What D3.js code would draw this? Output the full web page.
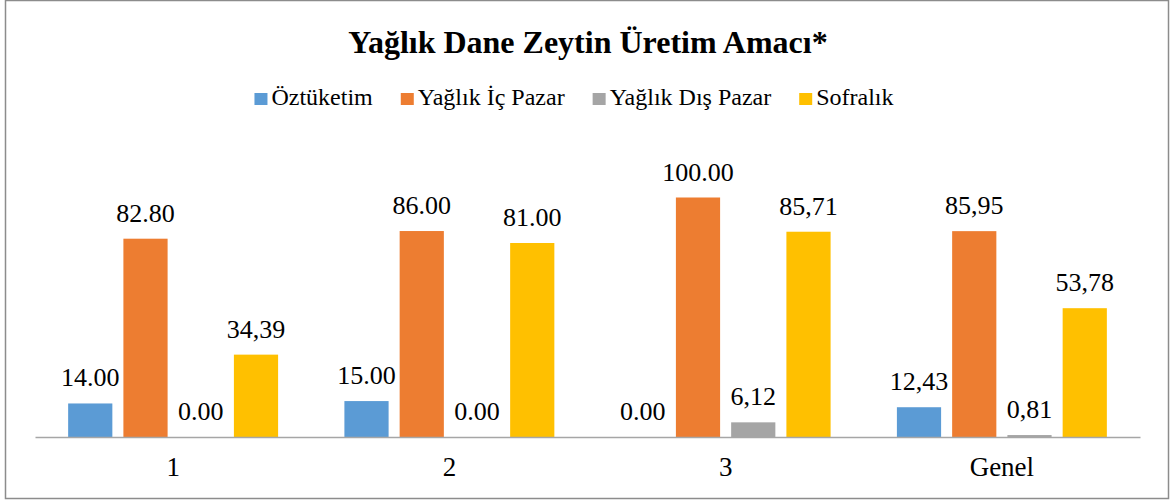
<!DOCTYPE html>
<html>
<head>
<meta charset="utf-8">
<script src="https://cdn.jsdelivr.net/npm/d3@7"></script>
<style>
  body { margin: 0; background: #fff; }
  text { font-family: "Liberation Serif", "Times New Roman", serif; fill: #000; }
</style>
</head>
<body>
<script>
const width = 1176;
const height = 503;

const gruplar = ["1", "2", "3", "Genel"];
const seriler = ["Öztüketim", "Yağlık İç Pazar", "Yağlık Dış Pazar", "Sofralık"];
const renkler = ["#5b9bd5", "#ed7d31", "#a5a5a5", "#ffc000"];

const oztuketim = [14.0, 15.0, 0.0, 12.43];
const icPazar = [82.8, 86.0, 100.0, 85.95];
const disPazar = [0.0, 0.0, 6.12, 0.81];
const sofralik = [34.39, 81.0, 85.71, 53.78];

// etiketler resimdeki gibi (nokta / virgül karışık)
const oztuketimEtiket = ["14.00", "15.00", "0.00", "12,43"];
const icPazarEtiket = ["82.80", "86.00", "100.00", "85,95"];
const disPazarEtiket = ["0.00", "0.00", "6,12", "0,81"];
const sofralikEtiket = ["34,39", "81.00", "85,71", "53,78"];

const degerler = [oztuketim, icPazar, disPazar, sofralik];
const etiketler = [oztuketimEtiket, icPazarEtiket, disPazarEtiket, sofralikEtiket];

const svg = d3
  .select("body")
  .append("svg")
  .attr("width", width)
  .attr("height", height);

svg
  .append("rect")
  .attr("x", 5.5)
  .attr("y", 0.5)
  .attr("width", 1163)
  .attr("height", 498)
  .attr("fill", "#fff")
  .attr("stroke", "#8c8c8c")
  .attr("stroke-width", 1.5);

svg
  .append("text")
  .attr("x", 588)
  .attr("y", 53)
  .attr("text-anchor", "middle")
  .attr("font-size", 32)
  .attr("font-weight", "bold")
  .text("Yağlık Dane Zeytin Üretim Amacı*");

// lejant
const lejant = svg.append("g");
let lx = 0;
seriler.forEach((s, i) => {
  const g = lejant.append("g").attr("transform", `translate(${lx},0)`);
  g.append("rect")
    .attr("x", 0)
    .attr("y", -12)
    .attr("width", 13)
    .attr("height", 12)
    .attr("fill", renkler[i]);
  const t = g
    .append("text")
    .attr("x", 17)
    .attr("y", 0)
    .attr("font-size", 24)
    .text(s);
  lx += 17 + t.node().getComputedTextLength() + 28;
});
const lejantGenislik = lx - 28;
lejant.attr("transform", `translate(${574 - lejantGenislik / 2},105)`);

const taban = 437;
const y = d3.scaleLinear().domain([0, 100]).range([taban, 197.5]);

const x0 = d3
  .scaleBand()
  .domain(gruplar)
  .range([35, 1140])
  .paddingInner(0.2)
  .paddingOuter(0.1);

const x1 = d3
  .scaleBand()
  .domain(d3.range(seriler.length))
  .range([0, x0.bandwidth()])
  .paddingInner(0.2)
  .paddingOuter(0.1);

const satirlar = gruplar.map((g, gi) => ({
  grup: g,
  cubuklar: seriler.map((s, si) => ({
    si: si,
    deger: degerler[si][gi],
    etiket: etiketler[si][gi],
  })),
}));

const grupG = svg
  .selectAll("g.grup")
  .data(satirlar)
  .enter()
  .append("g")
  .attr("class", "grup")
  .attr("transform", (d) => `translate(${x0(d.grup)},0)`);

grupG
  .selectAll("rect")
  .data((d) => d.cubuklar)
  .enter()
  .append("rect")
  .attr("x", (d) => x1(d.si))
  .attr("y", (d) => y(d.deger))
  .attr("width", x1.bandwidth())
  .attr("height", (d) => taban - y(d.deger))
  .attr("fill", (d) => renkler[d.si]);

grupG
  .selectAll("text")
  .data((d) => d.cubuklar)
  .enter()
  .append("text")
  .attr("x", (d) => x1(d.si) + x1.bandwidth() / 2)
  .attr("y", (d) => y(d.deger) - 17)
  .attr("text-anchor", "middle")
  .attr("font-size", 26)
  .text((d) => d.etiket);

// x ekseni
const xEkseni = svg
  .append("g")
  .attr("transform", `translate(0,${taban})`)
  .call(d3.axisBottom(x0).tickSize(0).tickPadding(20));
xEkseni.select(".domain").attr("stroke", "#a6a6a6").attr("stroke-width", 1.5);
xEkseni
  .selectAll("text")
  .attr("font-size", 27)
  .attr("fill", "#000");
</script>
</body>
</html>
